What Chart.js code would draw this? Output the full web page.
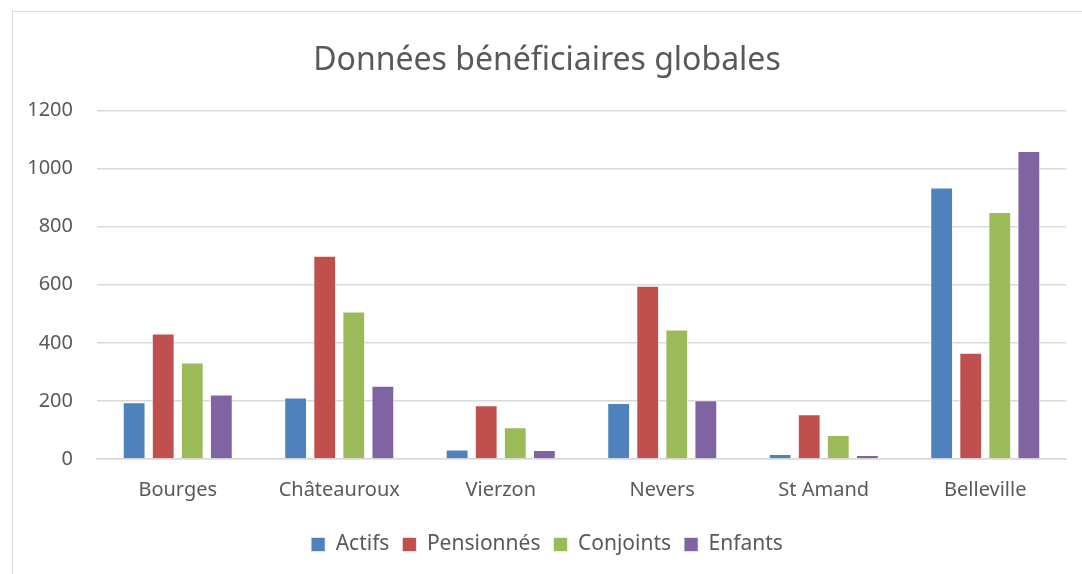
<!DOCTYPE html>
<html>
<head>
<meta charset="utf-8">
<script src="https://cdn.jsdelivr.net/npm/chart.js@4"></script>
<style>
  body { margin: 0; background: #fff; overflow: hidden; }
  #frame { position: absolute; left: 12px; top: 11px; width: 1100px; height: 600px; border: 1px solid #d9d9d9; }
  #wrap { position: absolute; left: 0; top: 0; width: 1082px; height: 574px; }
</style>
</head>
<body>
<div id="frame"></div>
<div id="wrap"><canvas id="myChart"></canvas></div>
<script>
const categories = ["Bourges", "Châteauroux", "Vierzon", "Nevers", "St Amand", "Belleville"];
const actifs = [195, 212, 33, 193, 17, 935];
const pensionnes = [432, 700, 185, 596, 154, 366];
const conjoints = [332, 508, 109, 446, 83, 850];
const enfants = [222, 252, 31, 202, 14, 1060];
const yTicks = [0, 200, 400, 600, 800, 1000, 1200];

const font = "'Noto Sans', sans-serif";
const grey = "#595959";

function bars(label, values, color) {
  return {
    label: label,
    data: values,
    backgroundColor: color,
    borderColor: "rgba(255,255,255,0.6)",
    borderWidth: 1,
    categoryPercentage: 0.72,
    barPercentage: 0.785
  };
}

const data = {
  labels: categories,
  datasets: [
    bars("Actifs", actifs, "#4f81bd"),
    bars("Pensionnés", pensionnes, "#c0504d"),
    bars("Conjoints", conjoints, "#9bbb59"),
    bars("Enfants", enfants, "#8064a2")
  ]
};

const config = {
  type: "bar",
  data: data,
  options: {
    responsive: true,
    maintainAspectRatio: false,
    animation: false,
    layout: { padding: { top: 42, left: 28, right: 16, bottom: 9 } },
    plugins: {
      title: {
        display: true,
        text: "Données bénéficiaires globales",
        color: grey,
        font: { family: font, size: 32, weight: "normal" },
        padding: { top: 0, bottom: 30 }
      },
      legend: {
        position: "bottom",
        labels: {
          color: grey,
          font: { family: font, size: 21 },
          boxWidth: 14,
          boxHeight: 14,
          padding: 13
        }
      },
      tooltip: { enabled: false }
    },
    scales: {
      x: {
        grid: { display: false, drawTicks: false },
        border: { color: "#d9d9d9", width: 1.5 },
        ticks: { color: grey, font: { family: font, size: 20 }, padding: 19 }
      },
      y: {
        min: 0,
        max: 1200,
        afterBuildTicks: (axis) => { axis.ticks = yTicks.map(v => ({ value: v })); },
        afterFit: (axis) => { axis.width = 69; },
        grid: { color: "#d9d9d9", lineWidth: 1.5, drawTicks: false },
        border: { display: false },
        ticks: {
          color: grey,
          font: { family: font, size: 20 },
          padding: 24,
          callback: (v) => String(v)
        }
      }
    }
  }
};

new Chart(document.getElementById("myChart"), config);
</script>
</body>
</html>
